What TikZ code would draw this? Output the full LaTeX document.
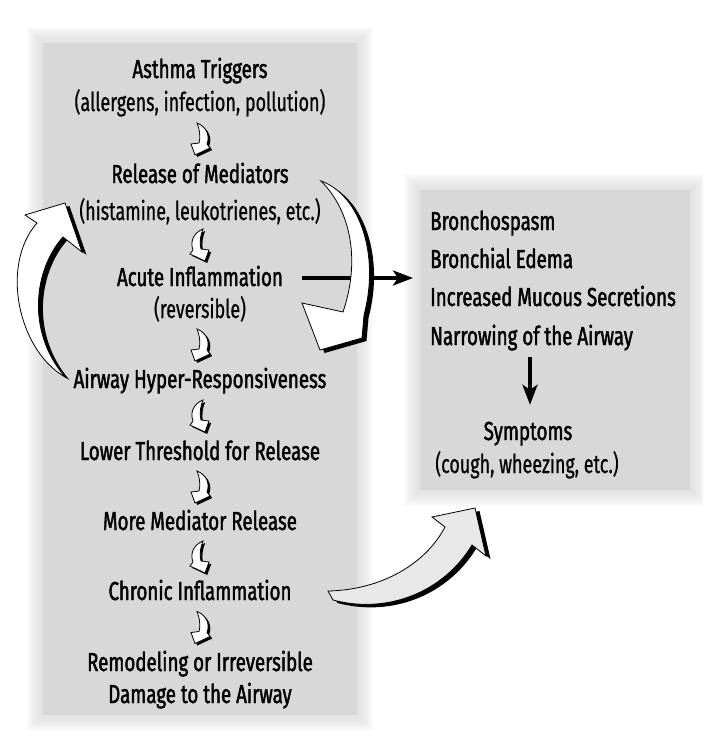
\documentclass[tikz,border=0pt]{standalone}
\usepackage{fontspec}
\setmainfont{Fira Sans}[FakeStretch=0.72, FakeBold=1.6]
\newfontfamily\subfont{Fira Sans}[FakeStretch=0.69, FakeBold=0.6]
\usetikzlibrary{arrows.meta,calc}
\definecolor{boxgray}{RGB}{216,216,216}
\definecolor{tailgray}{RGB}{232,232,232}
\tikzset{
  lbl/.style={inner sep=0pt, font=\fontsize{26}{30}\selectfont, text height=20pt, text depth=4pt},
  sublbl/.style={lbl, font=\subfont\fontsize{26}{30}\selectfont},
  bigarrow/.style={fill=white, draw=black, line width=0.8pt, line join=miter,
    preaction={fill=black, transform canvas={shift={(4.5pt,-3pt)}}}},
  smallarrow/.style={fill=white, draw=black, line width=0.8pt, line join=miter,
    preaction={fill=black, transform canvas={shift={(2.2pt,-2pt)}}}},
  thickarrow/.style={line width=4pt, -{Stealth[length=20pt,width=15pt,inset=5pt]}},
  hookr/.pic={
    \path[smallarrow] (-3,-16) .. controls (7,-12) and (10,-3) .. (7,5) -- (10,9) -- (-5,16)
      -- (-9,5) -- (-1,4) .. controls (1,-4) and (-1,-11) .. cycle;
  }
}
\begin{document}
\begin{tikzpicture}[x=1pt,y=-1pt]
    \useasboundingbox (0,0) rectangle (702,742);
    \fill[white] (0,0) rectangle (702,742);
    \foreach \d in {16,14,...,2} {
      \fill[boxgray, opacity=0.12] (43-\d,43-\d) rectangle (357+\d,715+\d);
      \fill[boxgray, opacity=0.12] (420-\d,190-\d) rectangle (690+\d,490+\d);
    }
    \fill[boxgray] (43,43) rectangle (357,715);
    \fill[boxgray] (420,190) rectangle (690,490);

    \node[lbl] (trig) at (200,70) {Asthma Triggers};
    \node[sublbl] (trigsub) at (200,103) {(allergens, infection, pollution)};
    \node[lbl] (rel) at (200,175) {Release of Mediators};
    \node[sublbl] (relsub) at (200,212) {(histamine, leukotrienes, etc.)};
    \node[lbl] (acute) at (200,278) {Acute Inflammation};
    \node[sublbl] (acutesub) at (200,310) {(reversible)};
    \node[lbl] (hyper) at (200,380) {Airway Hyper-Responsiveness};
    \node[lbl] (lower) at (200,452) {Lower Threshold for Release};
    \node[lbl] (more) at (200,522) {More Mediator Release};
    \node[lbl] (chronic) at (200,592) {Chronic Inflammation};
    \node[lbl] (remoda) at (200,663) {Remodeling or Irreversible};
    \node[lbl] (remodb) at (200,695) {Damage to the Airway};

    \node[lbl, anchor=west] (broncho) at (430,222) {Bronchospasm};
    \node[lbl, anchor=west] (edema) at (430,260) {Bronchial Edema};
    \node[lbl, anchor=west] (mucous) at (430,298) {Increased Mucous Secretions};
    \node[lbl, anchor=west] (narrow) at (430,337) {Narrowing of the Airway};
    \node[lbl] (symp) at (528,432) {Symptoms};
    \node[sublbl] (sympsub) at (527,465) {(cough, wheezing, etc.)};

    \coordinate (effin) at (413,278);
    \draw[thickarrow] ($(acute.east)+(19,0)$) -- (effin);
    \draw[thickarrow] ($(narrow.south -| symp.north)+(2,8)$) -- ($(symp.north)+(2,-15)$);

    \pic at ($(trigsub)!0.5!(rel)$) {hookr};
    \pic[xscale=-1] at ($(relsub)!0.5!(acute)$) {hookr};
    \pic at ($(acutesub)!0.5!(hyper)$) {hookr};
    \pic[xscale=-1] at ($(hyper)!0.5!(lower)$) {hookr};
    \pic at ($(lower)!0.5!(more)$) {hookr};
    \pic[xscale=-1] at ($(more)!0.5!(chronic)$) {hookr};
    \pic at ($(chronic)!0.5!(remoda)$) {hookr};

    \path[bigarrow] (321,181) .. controls (360,195) and (380,255) .. (364,315) -- (362,338)
      -- (320,350) -- (302,303) -- (343,312) .. controls (360,262) and (352,212) .. cycle;
    \path[bigarrow] (65,377) .. controls (18,350) and (0,265) .. (37,223) -- (25,215)
      -- (65,203) -- (82,252) -- (63,237) .. controls (35,268) and (25,330) .. cycle;
    \path[bigarrow, fill=tailgray] (328,591) .. controls (380,590) and (425,565) .. (445,527)
      -- (432,517) -- (475,508) -- (486,556) -- (472,545) .. controls (445,590) and (390,615)
      .. (333,600) -- cycle;
\end{tikzpicture}
\end{document}
